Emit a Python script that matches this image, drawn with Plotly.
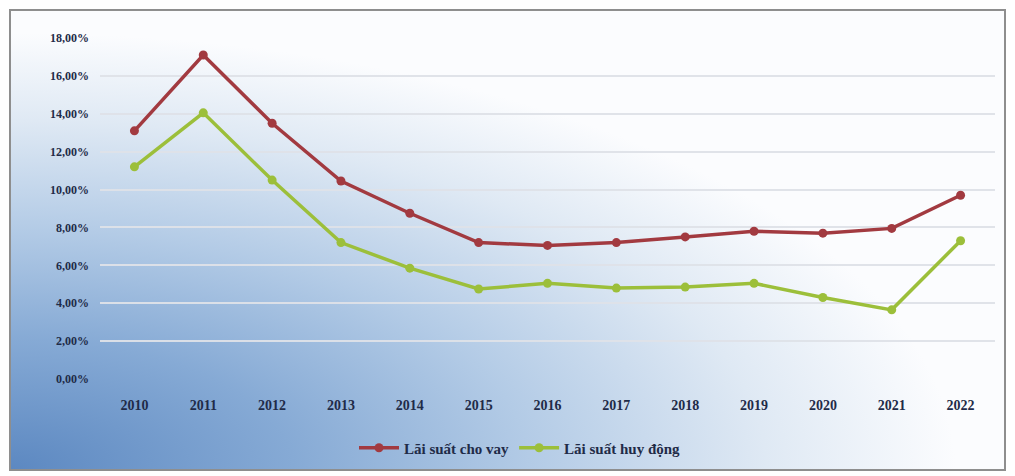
import base64
import plotly.graph_objects as go

# Interest rates (%), Vietnam 2010-2022
years = ["2010", "2011", "2012", "2013", "2014", "2015", "2016",
         "2017", "2018", "2019", "2020", "2021", "2022"]
lending_rate = [13.1, 17.1, 13.5, 10.45, 8.75, 7.2, 7.05, 7.2, 7.5, 7.8, 7.7, 7.95, 9.7]
deposit_rate = [11.2, 14.05, 10.5, 7.2, 5.85, 4.75, 5.05, 4.8, 4.85, 5.05, 4.3, 3.65, 7.3]
y_ticks = [0, 2, 4, 6, 8, 10, 12, 14, 16, 18]
y_tick_text = [f"{v:.2f}".replace(".", ",") + "%" for v in y_ticks]

W, H = 1015, 476
L, R, T, B = 100, 20, 38, 97
PW, PH = W - L - R, H - T - B


def px_x(px):
    return (px - L) / PW


def px_y(py):
    return (H - B - py) / PH


# Soft blue radial wash rising from the lower-left corner
svg = """<svg xmlns='http://www.w3.org/2000/svg' width='995' height='460' viewBox='0 0 995 460' preserveAspectRatio='none'>
<defs><radialGradient id='g' cx='0' cy='1' r='0.95'>
<stop offset='0' stop-color='#5c88c1'/>
<stop offset='0.3' stop-color='#86aad5'/>
<stop offset='0.55' stop-color='#b3cbe6'/>
<stop offset='0.8' stop-color='#dfe9f4'/>
<stop offset='1' stop-color='#fbfcfe'/>
</radialGradient></defs>
<rect width='995' height='460' fill='url(#g)'/></svg>"""
bg_src = "data:image/svg+xml;base64," + base64.b64encode(svg.encode()).decode()

fig = go.Figure()
fig.add_trace(go.Scatter(
    x=years, y=lending_rate, name="Lãi suất cho vay",
    mode="lines+markers",
    line=dict(color="#a23a40", width=3.5),
    marker=dict(color="#a23a40", size=9),
))
fig.add_trace(go.Scatter(
    x=years, y=deposit_rate, name="Lãi suất huy động",
    mode="lines+markers",
    line=dict(color="#9cbf3a", width=3.5),
    marker=dict(color="#9cbf3a", size=9),
))

font_family = "Liberation Serif, Times New Roman, serif"
text_color = "#1f2b48"

fig.update_layout(
    width=W, height=H,
    margin=dict(l=L, r=R, t=T, b=B),
    paper_bgcolor="white",
    plot_bgcolor="rgba(0,0,0,0)",
    showlegend=True,
    legend=dict(
        orientation="h", x=px_x(520), xanchor="center",
        y=px_y(448), yanchor="middle",
        bgcolor="rgba(0,0,0,0)",
        font=dict(family=font_family, size=15, color=text_color, weight="bold"),
        itemwidth=40,
    ),
    xaxis=dict(
        type="category", range=[-0.5, 12.5],
        showgrid=False, showline=False, zeroline=False,
        ticks="", ticklabelstandoff=16,
        tickfont=dict(family=font_family, size=14, color=text_color, weight="bold"),
    ),
    yaxis=dict(
        range=[0, 18], tickmode="array", tickvals=y_ticks, ticktext=y_tick_text,
        showgrid=True, gridcolor="rgba(222,226,232,0.95)", gridwidth=1.5,
        showline=False, zeroline=False, ticks="", ticklabelstandoff=10,
        tickfont=dict(family=font_family, size=12, color=text_color, weight="bold"),
    ),
    images=[dict(
        source=bg_src, xref="paper", yref="paper",
        x=px_x(10), y=px_y(10), sizex=995 / PW, sizey=460 / PH,
        xanchor="left", yanchor="top", sizing="stretch", layer="below",
    )],
    shapes=[dict(
        type="rect", xref="paper", yref="paper",
        x0=px_x(10), x1=px_x(1005), y0=px_y(470), y1=px_y(10),
        line=dict(color="#8e8e8e", width=2), layer="above",
    )],
)

fig.write_html("out.html")
